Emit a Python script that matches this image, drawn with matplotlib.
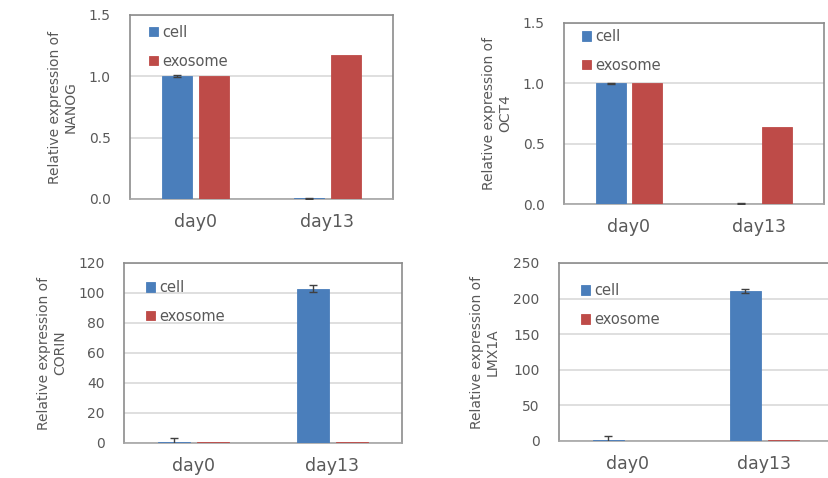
import matplotlib
matplotlib.use("Agg")
import matplotlib.pyplot as plt
import numpy as np

categories = ["day0", "day13"]
series_names = ["cell", "exosome"]
genes = ["NANOG", "OCT4", "CORIN", "LMX1A"]

nanog_cell = [1.0, 0.005]
nanog_cell_err = [0.008, 0.003]
nanog_exo = [1.0, 1.17]

oct4_cell = [1.0, 0.003]
oct4_cell_err = [0.004, 0.002]
oct4_exo = [1.0, 0.64]

corin_cell = [1.0, 103.0]
corin_cell_err = [2.5, 2.5]
corin_exo = [1.0, 1.0]

lmx1a_cell = [1.0, 211.0]
lmx1a_cell_err = [6.0, 3.0]
lmx1a_exo = [0.3, 1.2]

yticks_small = [0.0, 0.5, 1.0, 1.5]
yticks_corin = [0, 20, 40, 60, 80, 100, 120]
yticks_lmx1a = [0, 50, 100, 150, 200, 250]

BLUE = "#4a7ebb"
RED = "#be4b48"
TXT = "#595959"
GRID = "#d9d9d9"
SPINE = "#8c8c8c"

W, H = 829, 478
fig = plt.figure(figsize=(W / 100, H / 100), dpi=100)

def rect(l, r, t, b):
    return [l / W, 1 - b / H, (r - l) / W, (b - t) / H]

panels = [
    dict(box=rect(130, 393, 15, 199), cell=nanog_cell, err=nanog_cell_err, exo=nanog_exo,
         ticks=yticks_small, fmt="{:.1f}", gene="NANOG", lab_x=63, leg=(150, 33)),
    dict(box=rect(564, 824, 23, 204), cell=oct4_cell, err=oct4_cell_err, exo=oct4_exo,
         ticks=yticks_small, fmt="{:.1f}", gene="OCT4", lab_x=497, leg=(583, 37)),
    dict(box=rect(124, 402, 263, 443), cell=corin_cell, err=corin_cell_err, exo=corin_exo,
         ticks=yticks_corin, fmt="{:d}", gene="CORIN", lab_x=52, leg=(147, 288)),
    dict(box=rect(559, 833, 263, 441), cell=lmx1a_cell, err=lmx1a_cell_err, exo=lmx1a_exo,
         ticks=yticks_lmx1a, fmt="{:d}", gene="LMX1A", lab_x=485, leg=(582, 291)),
]

x = np.arange(len(categories))
bw = 0.23
off = 0.14

for p in panels:
    ax = fig.add_axes(p["box"])
    ax.set_xlim(-0.5, len(categories) - 0.5)
    ax.set_ylim(p["ticks"][0], p["ticks"][-1])
    ax.set_axisbelow(True)
    ax.yaxis.grid(True, color=GRID, linewidth=1.2)
    b1 = ax.bar(x - off, p["cell"], width=bw, color=BLUE, edgecolor=BLUE, linewidth=0.6,
                label=series_names[0], zorder=3)
    ax.errorbar(x - off, p["cell"], yerr=p["err"], fmt="none", ecolor="#404040",
                elinewidth=1.0, capsize=3, capthick=1.0, zorder=4)
    b2 = ax.bar(x + off, p["exo"], width=bw, color=RED, edgecolor=RED, linewidth=0.6,
                label=series_names[1], zorder=3)
    ax.set_yticks(p["ticks"])
    ax.set_yticklabels([p["fmt"].format(t) for t in p["ticks"]])
    ax.set_xticks(x)
    ax.set_xticklabels(categories)
    ax.tick_params(axis="y", length=0, pad=14, labelsize=10, labelcolor=TXT)
    ax.tick_params(axis="x", length=0, pad=10, labelsize=12.5, labelcolor=TXT)
    for s in ax.spines.values():
        s.set_color(SPINE)
        s.set_linewidth(1.2)
    ax.spines["bottom"].set_color("#a6a6a6")
    yc = (p["box"][1] + p["box"][3] / 2)
    fig.text(p["lab_x"] / W, yc, "Relative expression of\n" + p["gene"], rotation=90,
             ha="center", va="center", multialignment="center", fontsize=10, color=TXT)
    lx, ly = p["leg"]
    ax0, ay0, aw, ah = p["box"]
    fx = (lx / W - ax0) / aw
    fy = ((1 - ly / H) - ay0) / ah
    leg = ax.legend(handles=[b1, b2], loc="upper left",
                    bbox_to_anchor=(fx - 0.005, fy + 0.045),
                    frameon=False, handlelength=0.65, handleheight=0.65,
                    handletextpad=0.3, labelspacing=0.95, fontsize=10.5,
                    borderaxespad=0, borderpad=0)
    for t in leg.get_texts():
        t.set_color(TXT)

fig.savefig("out.png", dpi=100)
